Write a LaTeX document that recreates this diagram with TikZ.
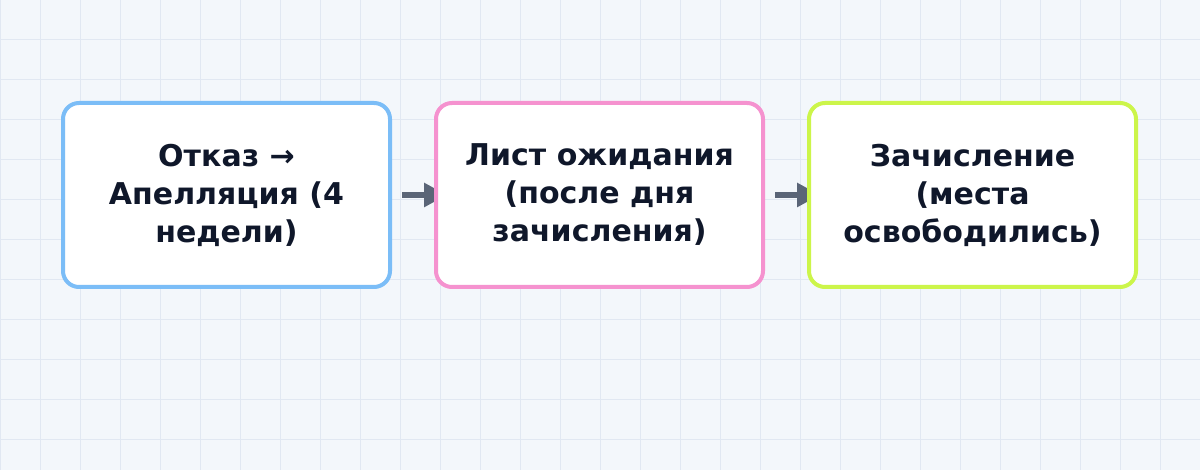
\documentclass[tikz,border=0pt]{standalone}
\usepackage{fontspec}
\setmainfont{DejaVu Sans}
\usetikzlibrary{arrows.meta, positioning, backgrounds}
\definecolor{bgpaper}{HTML}{F3F7FB}
\definecolor{gridcol}{HTML}{E1E8F2}
\definecolor{inkcol}{HTML}{0F172A}
\definecolor{arrowcol}{HTML}{5A6577}
\definecolor{boxblue}{HTML}{7BBDF7}
\definecolor{boxpink}{HTML}{F592CF}
\definecolor{boxlime}{HTML}{CCF54A}
\tikzset{
  stage/.style={draw=#1, fill=white, line width=4pt, rounded corners=16pt,
    minimum width=327pt, minimum height=184pt, align=center, text=inkcol,
    font=\fontsize{30pt}{38pt}\selectfont\bfseries},
  flow/.style={arrowcol, line width=6pt, -{Triangle[length=23pt,width=23pt]}}
}
\begin{document}
\begin{tikzpicture}[x=1pt, y=1pt, node distance=42pt]
\useasboundingbox (0,0) rectangle (1200,470);
% paper and grid
\begin{scope}[on background layer]
\fill[bgpaper] (0,0) rectangle (1200,470);
\foreach \x in {0,40,...,1200}
  \draw[gridcol, line width=1pt] (\x,0) -- (\x,470);
\foreach \y in {30,70,...,470}
  \draw[gridcol, line width=1pt] (0,\y) -- (1200,\y);
\end{scope}
% stages
\node[stage=boxblue] (refusal) at (226.5,275) {Отказ →\\Апелляция (4\\недели)};
\node[stage=boxpink, right=of refusal] (waitlist) {Лист ожидания\\(после дня\\зачисления)};
\node[stage=boxlime, right=of waitlist] (enrol) {Зачисление\\(места\\освободились)};
% arrows go under the boxes
\begin{scope}[on background layer]
\draw[flow] ([xshift=10pt]refusal.east) -- ([xshift=13pt]waitlist.west);
\draw[flow] ([xshift=10pt]waitlist.east) -- ([xshift=13pt]enrol.west);
\end{scope}
\end{tikzpicture}
\end{document}
